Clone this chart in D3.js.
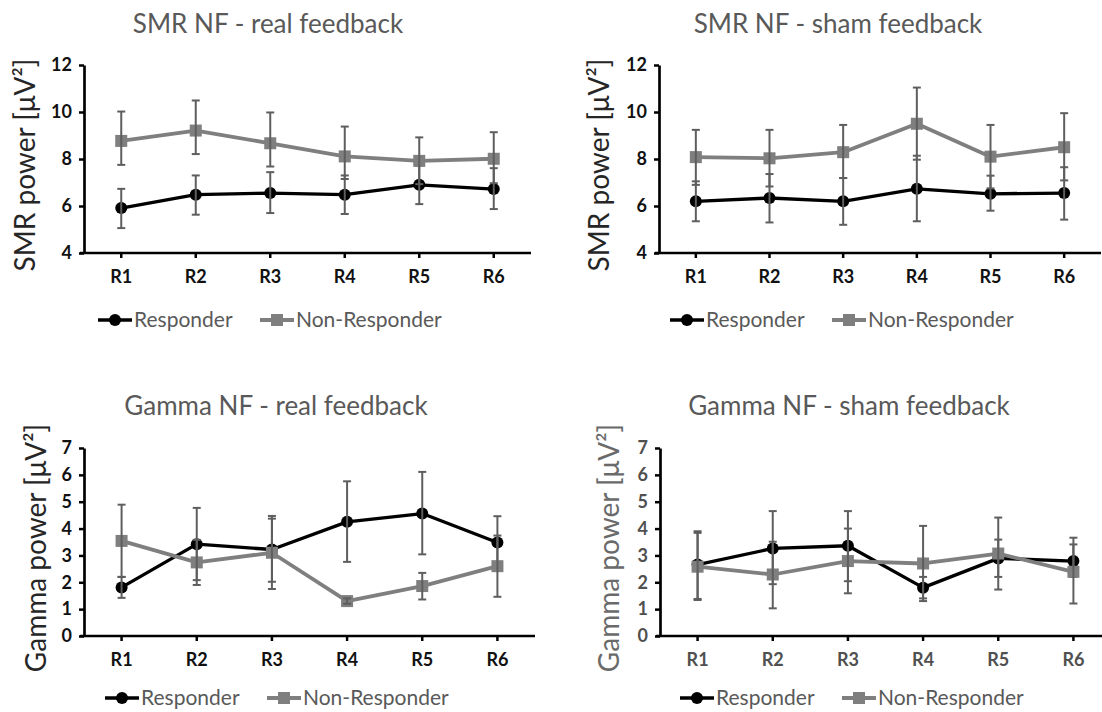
<!DOCTYPE html>
<html>
<head>
<meta charset="utf-8">
<script src="https://cdn.jsdelivr.net/npm/d3@7"></script>
<style>
  body { margin: 0; background: #fff; }
  svg { display: block; }
  text { font-family: Lato, "Open Sans", sans-serif; }
</style>
</head>
<body>
<svg id="chart" width="1102" height="712"></svg>
<script>
// rounds of neurofeedback
const rounds = ['R1', 'R2', 'R3', 'R4', 'R5', 'R6'];
const seriesNames = ['Responder', 'Non-Responder'];

// SMR NF - real feedback (mean, upper and lower error bar ends)
const smrRealResp = [5.91, 6.48, 6.55, 6.48, 6.90, 6.72];
const smrRealRespHi = [6.73, 7.30, 7.44, 7.30, 7.72, 7.61];
const smrRealRespLo = [5.06, 5.63, 5.70, 5.66, 6.08, 5.87];
const smrRealNon = [8.77, 9.21, 8.67, 8.11, 7.92, 8.01];
const smrRealNonHi = [10.02, 10.49, 9.98, 9.38, 8.92, 9.14];
const smrRealNonLo = [7.75, 8.21, 7.68, 7.15, 6.93, 6.97];

// SMR NF - sham feedback
const smrShamResp = [6.20, 6.34, 6.20, 6.73, 6.52, 6.55];
const smrShamRespHi = [7.05, 7.36, 7.19, 8.14, 7.29, 7.65];
const smrShamRespLo = [5.35, 5.30, 5.20, 5.35, 5.80, 5.42];
const smrShamNon = [8.08, 8.03, 8.29, 9.50, 8.10, 8.50];
const smrShamNonHi = [9.24, 9.24, 9.45, 11.04, 9.45, 9.95];
const smrShamNonLo = [6.90, 6.83, 7.19, 7.97, 6.75, 7.09];

// Gamma NF - real feedback
const gamRealResp = [1.81, 3.42, 3.22, 4.25, 4.56, 3.48];
const gamRealRespHi = [2.20, 4.77, 4.47, 5.76, 6.11, 4.46];
const gamRealRespLo = [1.42, 2.08, 2.02, 2.76, 3.04, 2.50];
const gamRealNon = [3.54, 2.74, 3.10, 1.30, 1.86, 2.60];
const gamRealNonHi = [4.89, 3.58, 4.37, 1.40, 2.35, 3.74];
const gamRealNonLo = [2.20, 1.90, 1.75, 1.20, 1.36, 1.46];

// Gamma NF - sham feedback
const gamShamResp = [2.66, 3.26, 3.36, 1.80, 2.89, 2.79];
const gamShamRespHi = [3.90, 4.65, 4.65, 2.20, 3.59, 3.41];
const gamShamRespLo = [1.38, 1.93, 2.04, 1.40, 2.20, 2.20];
const gamShamNon = [2.58, 2.29, 2.79, 2.70, 3.07, 2.39];
const gamShamNonHi = [3.84, 3.51, 4.00, 4.10, 4.41, 3.66];
const gamShamNonLo = [1.34, 1.03, 1.59, 1.30, 1.73, 1.21];

const smrTicks = [4, 6, 8, 10, 12];
const gammaTicks = [0, 1, 2, 3, 4, 5, 6, 7];

const svg = d3.select('#chart');

const panels = [
  {
    title: 'SMR NF - real feedback', ylabel: 'SMR power [μV²]', ticks: smrTicks,
    resp: [smrRealResp, smrRealRespHi, smrRealRespLo], non: [smrRealNon, smrRealNonHi, smrRealNonLo],
    left: 84, right: 531, top: 65, bottom: 253, titleX: 268, titleY: 33, labelX: 25,
    legendX: 98, legendY: 320, tickColor: '#111', labelColor: '#262626'
  },
  {
    title: 'SMR NF - sham feedback', ylabel: 'SMR power [μV²]', ticks: smrTicks,
    resp: [smrShamResp, smrShamRespHi, smrShamRespLo], non: [smrShamNon, smrShamNonHi, smrShamNonLo],
    left: 659, right: 1101, top: 65, bottom: 253, titleX: 838, titleY: 33, labelX: 599,
    legendX: 670, legendY: 320, tickColor: '#111', labelColor: '#262626'
  },
  {
    title: 'Gamma NF - real feedback', ylabel: 'Gamma power [μV²]', ticks: gammaTicks,
    resp: [gamRealResp, gamRealRespHi, gamRealRespLo], non: [gamRealNon, gamRealNonHi, gamRealNonLo],
    left: 84, right: 535, top: 448, bottom: 636, titleX: 276, titleY: 415, labelX: 36,
    legendX: 105, legendY: 698, tickColor: '#111', labelColor: '#262626'
  },
  {
    title: 'Gamma NF - sham feedback', ylabel: 'Gamma power [μV²]', ticks: gammaTicks,
    resp: [gamShamResp, gamShamRespHi, gamShamRespLo], non: [gamShamNon, gamShamNonHi, gamShamNonLo],
    left: 660, right: 1111, top: 448, bottom: 636, titleX: 849, titleY: 415, labelX: 609,
    legendX: 680, legendY: 698, tickColor: '#505050', labelColor: '#6a6a6a'
  }
];

const styles = [
  { line: '#000000', width: 3.3, shape: 'circle' },
  { line: '#7f7f7f', width: 3.8, shape: 'square' }
];
const errColor = '#5e5e5e';

function drawMarker(g, shape, cx, cy, color) {
  if (shape === 'circle') {
    g.append('circle').attr('cx', cx).attr('cy', cy).attr('r', 6).attr('fill', color);
  } else {
    g.append('rect').attr('x', cx - 6).attr('y', cy - 6).attr('width', 12).attr('height', 12).attr('fill', color);
  }
}

panels.forEach(p => {
  const g = svg.append('g');

  const x = d3.scaleBand().domain(rounds).range([p.left, p.right]).padding(0);
  const y = d3.scaleLinear().domain([p.ticks[0], p.ticks[p.ticks.length - 1]]).range([p.bottom, p.top]);
  const cx = r => x(r) + x.bandwidth() / 2;

  // title
  g.append('text')
    .attr('x', p.titleX).attr('y', p.titleY)
    .attr('text-anchor', 'middle')
    .attr('font-size', '26px')
    .attr('fill', '#595959')
    .text(p.title);

  // y label
  g.append('text')
    .attr('transform', `translate(${p.labelX}, ${(p.top + p.bottom) / 2 + 6})rotate(-90)`)
    .attr('text-anchor', 'middle')
    .attr('dy', '0.35em')
    .attr('font-size', '28px')
    .attr('fill', p.labelColor)
    .text(p.ylabel);

  // axes
  const yAxis = g.append('g')
    .attr('transform', `translate(${p.left},0)`)
    .call(d3.axisLeft(y).tickValues(p.ticks).tickFormat(d3.format('d'))
      .tickSize(5).tickSizeOuter(0).tickPadding(7));
  const xAxis = g.append('g')
    .attr('transform', `translate(0,${p.bottom})`)
    .call(d3.axisBottom(x).tickSize(5).tickSizeOuter(0).tickPadding(12));

  [yAxis, xAxis].forEach(a => {
    a.select('.domain').attr('stroke', '#000').attr('stroke-width', 2.7);
    a.selectAll('.tick line').attr('stroke', '#000').attr('stroke-width', 2.5);
    a.selectAll('.tick text')
      .attr('font-family', 'Lato, sans-serif')
      .attr('font-weight', 'bold')
      .attr('font-size', '18px')
      .attr('fill', p.tickColor);
  });
  xAxis.select('.domain').attr('d', `M${p.left - 4},0H${p.right}`);

  const groups = [p.resp, p.non];

  groups.forEach((grp, si) => {
    const st = styles[si];
    const [mean, hi, lo] = grp;
    const line = d3.line().x((d, i) => cx(rounds[i])).y(d => y(d));
    g.append('path')
      .datum(mean)
      .attr('fill', 'none')
      .attr('stroke', st.line)
      .attr('stroke-width', st.width)
      .attr('stroke-linejoin', 'round')
      .attr('d', line);
    mean.forEach((v, i) => drawMarker(g, st.shape, cx(rounds[i]), y(v), st.line));

    // error bars on top
    const eg = g.append('g').attr('stroke', errColor).attr('stroke-width', 2);
    rounds.forEach((r, i) => {
      const xc = cx(r);
      eg.append('line').attr('x1', xc).attr('x2', xc).attr('y1', y(hi[i])).attr('y2', y(lo[i]));
      eg.append('line').attr('x1', xc - 4).attr('x2', xc + 4).attr('y1', y(hi[i])).attr('y2', y(hi[i]));
      eg.append('line').attr('x1', xc - 4).attr('x2', xc + 4).attr('y1', y(lo[i])).attr('y2', y(lo[i]));
    });
  });

  // legend
  const lg = g.append('g').attr('transform', `translate(${p.legendX},${p.legendY})`);
  const offsets = [0, 162];
  seriesNames.forEach((name, si) => {
    const st = styles[si];
    const ox = offsets[si];
    lg.append('line')
      .attr('x1', ox).attr('x2', ox + 34).attr('y1', 0).attr('y2', 0)
      .attr('stroke', st.line).attr('stroke-width', st.width);
    drawMarker(lg, st.shape, ox + 17, 0, st.line);
    lg.append('text')
      .attr('x', ox + 36).attr('y', 0).attr('dy', '0.35em')
      .attr('font-size', '21px')
      .attr('fill', '#595959')
      .text(name);
  });
});
</script>
</body>
</html>
